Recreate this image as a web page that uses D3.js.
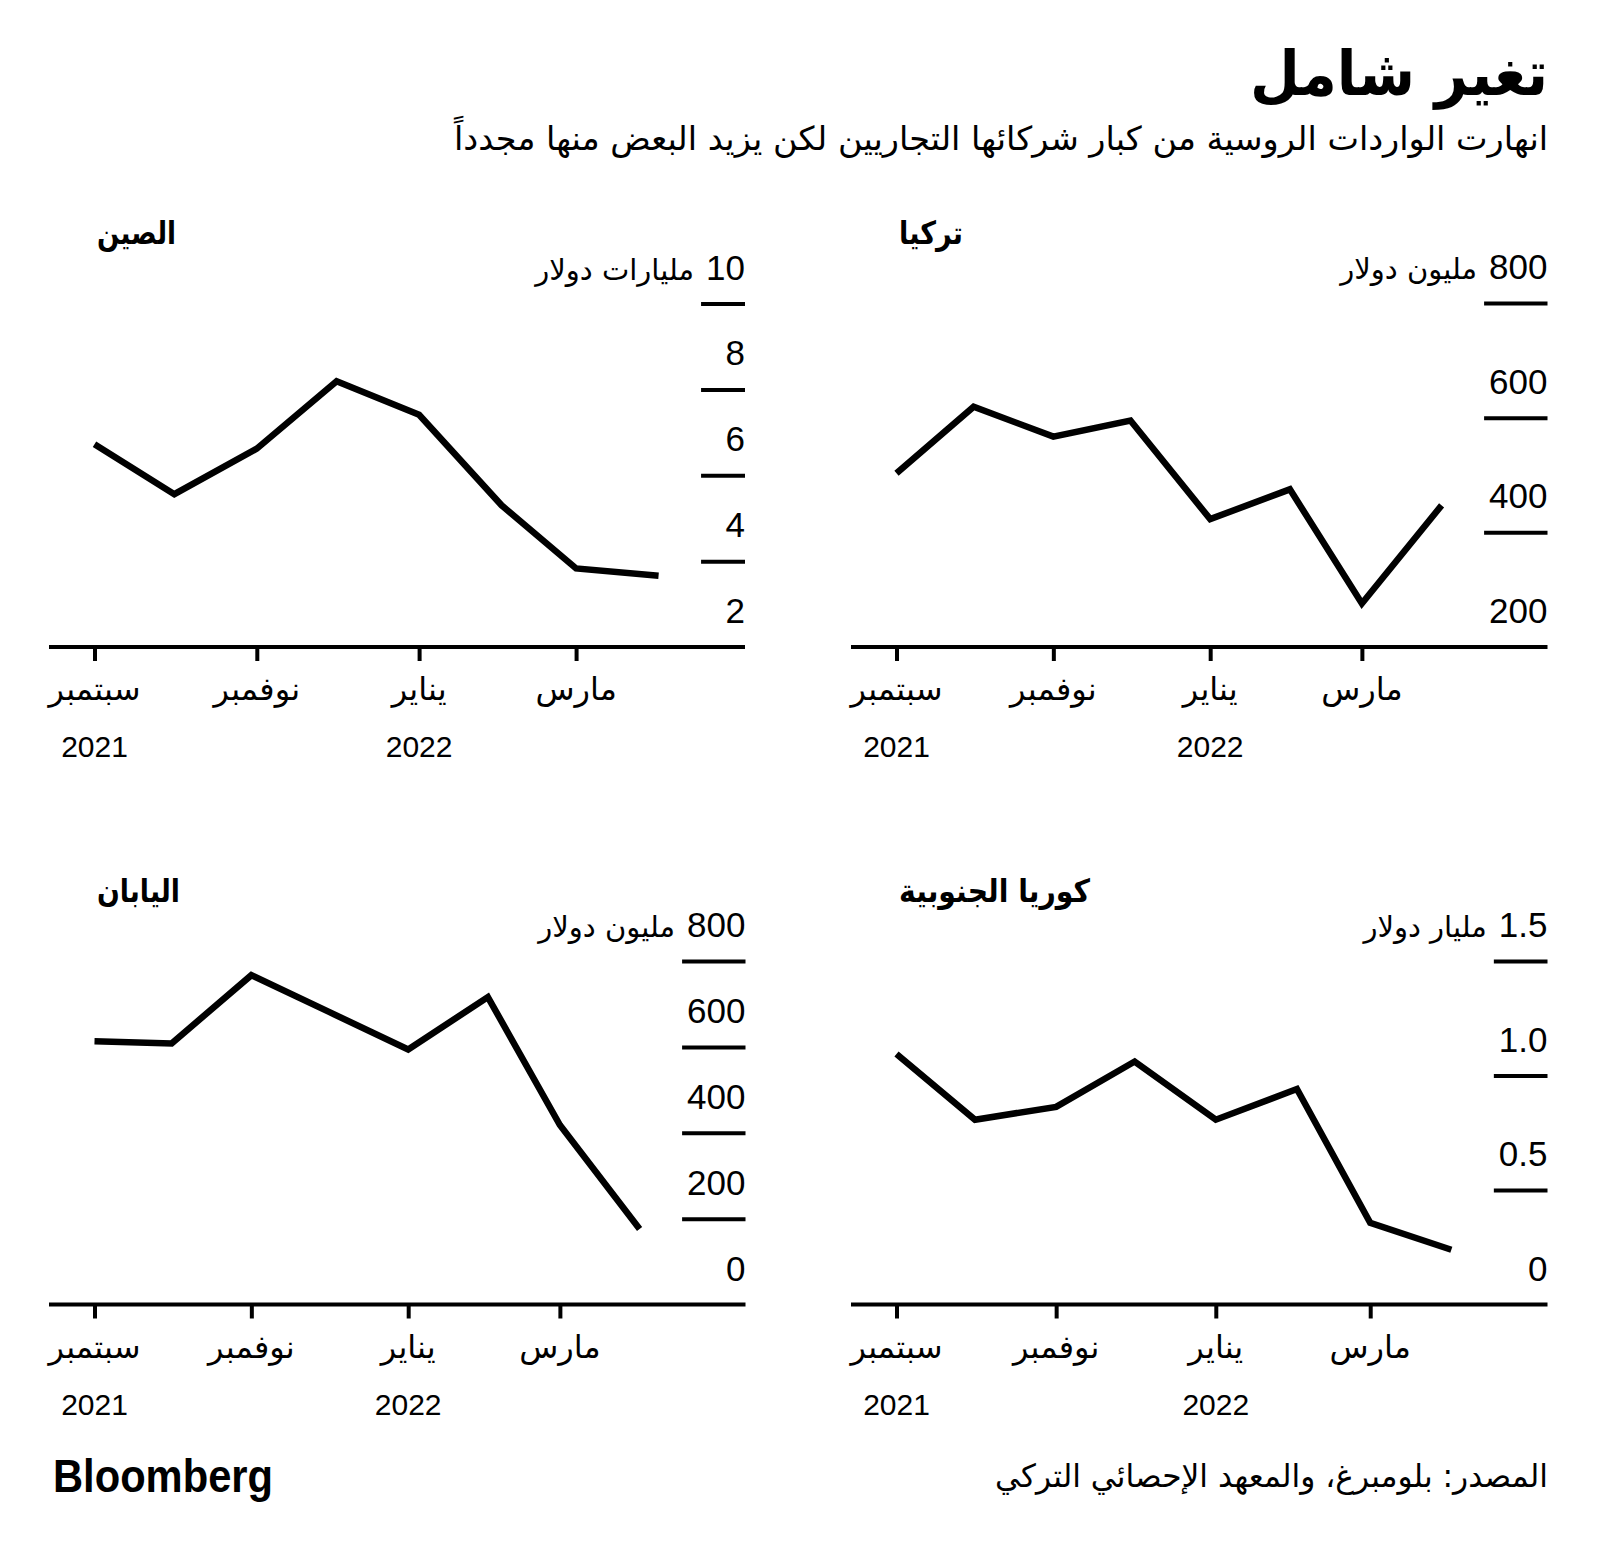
<!DOCTYPE html>
<html>
<head>
<meta charset="utf-8">
<script src="https://cdn.jsdelivr.net/npm/d3@7"></script>
<style>
  html, body { margin: 0; padding: 0; background: #ffffff; }
  svg { display: block; }
  .ar { font-family: "DejaVu Sans", sans-serif; }
  .num { font-family: "Liberation Sans", Arial, sans-serif; }
</style>
</head>
<body>
<svg id="chart" width="1600" height="1557"></svg>
<script>
// ---------------- DATA ----------------
const months = ["2021-09-01","2021-10-01","2021-11-01","2021-12-01","2022-01-01","2022-02-01","2022-03-01","2022-04-01"];

const chinaValues  = [6.72, 5.56, 6.62, 8.19, 7.41, 5.30, 3.83, 3.66];   // billion $
const turkeyValues = [503, 619, 567, 595, 423, 475, 276, 447];           // million $
const japanValues  = [613, 608, 767, 682, 594, 716, 418, 176];           // million $
const koreaValues  = [1.094, 0.807, 0.863, 1.061, 0.807, 0.941, 0.357, 0.239]; // billion $

const chinaTicks  = [2, 4, 6, 8, 10];
const turkeyTicks = [200, 400, 600, 800];
const japanTicks  = [0, 200, 400, 600, 800];
const koreaTicks  = [0, 0.5, 1.0, 1.5];
const koreaTickLabels = ["0", "0.5", "1.0", "1.5"];

const chinaUnit  = "مليارات دولار";
const turkeyUnit = "مليون دولار";
const japanUnit  = "مليون دولار";
const koreaUnit  = "مليار دولار";

const panelTitles = ["الصين", "تركيا", "اليابان", "كوريا الجنوبية"];

const monthTickDates  = ["2021-09-01","2021-11-01","2022-01-01","2022-03-01"];
const monthTickLabels = ["سبتمبر","نوفمبر","يناير","مارس"];
const yearTickDates   = ["2021-09-01","2022-01-01"];
const yearTickLabels  = ["2021","2022"];

const titleText    = "تغير شامل";
const subtitleText = "انهارت الواردات الروسية من كبار شركائها التجاريين لكن يزيد البعض منها مجدداً";
const sourceText   = "المصدر: بلومبرغ، والمعهد الإحصائي التركي";
const logoText     = "Bloomberg";

// ---------------- LAYOUT ----------------
const parse = d3.timeParse("%Y-%m-%d");
const dates = months.map(parse);

const panels = [
  { title: panelTitles[0], titleW: 79,  values: chinaValues,  ticks: chinaTicks,  labels: chinaTicks.map(String),  unit: chinaUnit,  L: 49,  R: 745,    top: 303.5, base: 647 },
  { title: panelTitles[1], titleW: 64,  values: turkeyValues, ticks: turkeyTicks, labels: turkeyTicks.map(String), unit: turkeyUnit, L: 851, R: 1547.5, top: 303,   base: 647 },
  { title: panelTitles[2], titleW: 83,  values: japanValues,  ticks: japanTicks,  labels: japanTicks.map(String),  unit: japanUnit,  L: 49,  R: 745.5,  top: 961,   base: 1304.5 },
  { title: panelTitles[3], titleW: 191, values: koreaValues,  ticks: koreaTicks,  labels: koreaTickLabels,         unit: koreaUnit,  L: 851, R: 1547.5, top: 961,   base: 1304.5 }
];

const svg = d3.select("#chart");
svg.append("rect").attr("width", 1600).attr("height", 1557).attr("fill", "#fff");

function measure(txt, cls, size, weight) {
  const t = svg.append("text").attr("class", cls).attr("font-size", size)
    .attr("font-weight", weight || "normal").text(txt);
  const w = t.node().getComputedTextLength();
  t.remove();
  return w;
}

// ---------------- HEADER ----------------
svg.append("text").attr("class", "ar")
  .attr("x", 1548).attr("y", 95).attr("text-anchor", "end")
  .attr("font-size", 62).attr("font-weight", "bold")
  .attr("textLength", 298).attr("lengthAdjust", "spacingAndGlyphs")
  .text(titleText);

svg.append("text").attr("class", "ar")
  .attr("x", 1548).attr("y", 150).attr("text-anchor", "end")
  .attr("font-size", 33)
  .attr("textLength", 1094).attr("lengthAdjust", "spacingAndGlyphs")
  .text(subtitleText);

// ---------------- PANELS ----------------
const tickFont = 35;
panels.forEach(p => {
  const g = svg.append("g");
  const tickW = d3.max(p.labels, l => measure(l, "num", tickFont)) + 5;

  const x = d3.scaleTime()
    .domain([dates[0], dates[dates.length - 1]])
    .range([p.L + 45.5, p.R - tickW - 42.5]);
  const y = d3.scaleLinear()
    .domain([p.ticks[0], p.ticks[p.ticks.length - 1]])
    .range([p.base, p.top]);

  // panel title
  g.append("text").attr("class", "ar")
    .attr("x", p.L + 48).attr("y", p.base - 403).attr("text-anchor", "start")
    .attr("font-size", 32).attr("font-weight", "bold")
    .attr("textLength", p.titleW).attr("lengthAdjust", "spacingAndGlyphs")
    .text(p.title);

  // y axis tick bars
  const yAxis = d3.axisLeft(y)
    .tickValues(p.ticks.slice(1))
    .tickSize(tickW)
    .tickFormat("");
  const gy = g.append("g").attr("transform", `translate(${p.R},0)`).call(yAxis);
  gy.select(".domain").remove();
  gy.selectAll(".tick line").attr("stroke", "#000").attr("stroke-width", 4);

  // y tick labels above bars
  p.ticks.forEach((t, i) => {
    g.append("text").attr("class", "num")
      .attr("x", p.R).attr("y", y(t) - 24)
      .attr("text-anchor", "end").attr("font-size", tickFont).attr("fill", "#000")
      .text(p.labels[i]);
    if (i === p.ticks.length - 1) {
      const nw = measure(p.labels[i], "num", tickFont);
      g.append("text").attr("class", "ar")
        .attr("x", p.R - nw - 12).attr("y", y(t) - 24)
        .attr("text-anchor", "end").attr("font-size", 29).attr("fill", "#000")
        .text(p.unit);
    }
  });

  // x axis
  const xAxis = d3.axisBottom(x)
    .tickValues(monthTickDates.map(parse))
    .tickSize(14)
    .tickFormat("");
  const gx = g.append("g").attr("transform", `translate(0,${p.base})`).call(xAxis);
  gx.select(".domain").remove();
  gx.selectAll(".tick line").attr("stroke", "#000").attr("stroke-width", 4);

  g.append("line")
    .attr("x1", p.L).attr("x2", p.R)
    .attr("y1", p.base).attr("y2", p.base)
    .attr("stroke", "#000").attr("stroke-width", 4);

  monthTickDates.forEach((d, i) => {
    g.append("text").attr("class", "ar")
      .attr("x", x(parse(d))).attr("y", p.base + 53)
      .attr("text-anchor", "middle").attr("font-size", 32)
      .text(monthTickLabels[i]);
  });
  yearTickDates.forEach((d, i) => {
    g.append("text").attr("class", "num")
      .attr("x", x(parse(d))).attr("y", p.base + 110)
      .attr("text-anchor", "middle").attr("font-size", 30)
      .text(yearTickLabels[i]);
  });

  const line = d3.line()
    .x((d, i) => x(dates[i]))
    .y(d => y(d));
  g.append("path")
    .datum(p.values)
    .attr("d", line)
    .attr("fill", "none")
    .attr("stroke", "#000")
    .attr("stroke-width", 6.5)
    .attr("stroke-linejoin", "miter")
    .attr("stroke-linecap", "butt");
});

// ---------------- FOOTER ----------------
svg.append("text").attr("class", "num")
  .attr("x", 53).attr("y", 1492)
  .attr("font-size", 46).attr("font-weight", "bold")
  .attr("textLength", 220).attr("lengthAdjust", "spacingAndGlyphs")
  .text(logoText);

svg.append("text").attr("class", "ar")
  .attr("x", 1548).attr("y", 1487).attr("text-anchor", "end")
  .attr("font-size", 32)
  .attr("textLength", 553).attr("lengthAdjust", "spacingAndGlyphs")
  .text(sourceText);
</script>
</body>
</html>
